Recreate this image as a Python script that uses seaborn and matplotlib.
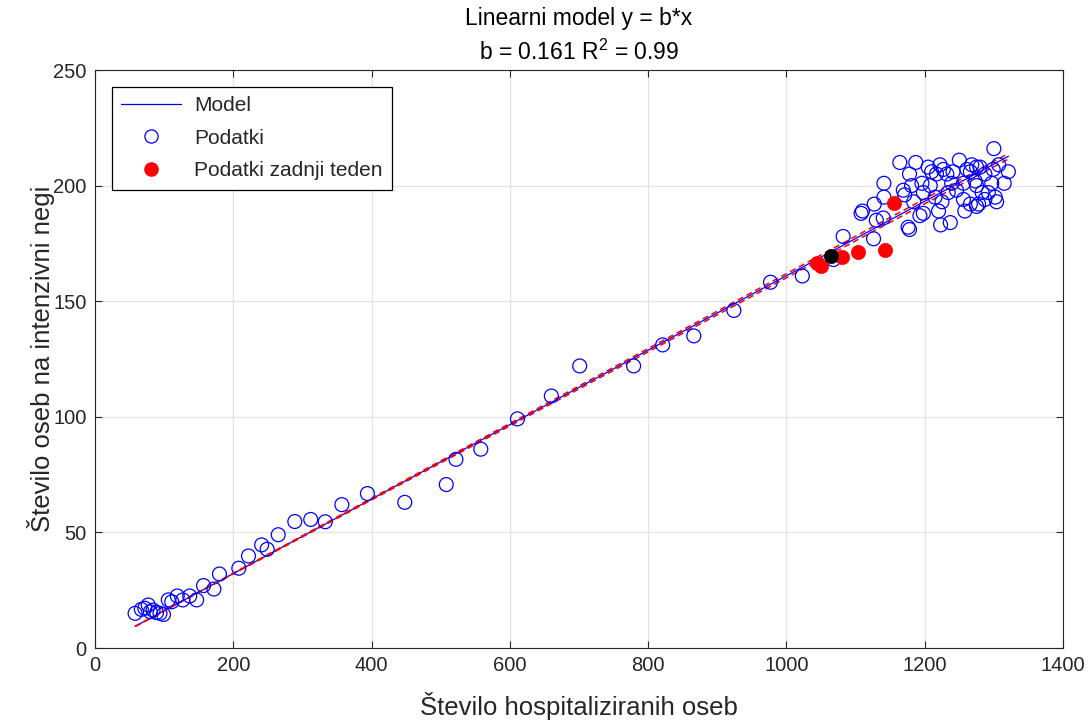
import numpy as np
import pandas as pd
import matplotlib
matplotlib.use("Agg")
import matplotlib.pyplot as plt
from matplotlib.lines import Line2D
import seaborn as sns

# ---------------- data ----------------
hosp_x = [58, 67, 72, 77, 80, 84, 89, 94, 99, 106, 111, 119, 127, 137, 147, 157, 172, 180,
          208, 222, 241, 249, 265, 289, 312, 333, 357, 394, 448, 508, 522, 558, 611, 660,
          701, 779, 821, 866, 924, 977, 1023, 1068, 1082,
          1108, 1110, 1126, 1127, 1130, 1140, 1141, 1141, 1164, 1169, 1171, 1176, 1178, 1178,
          1181, 1184, 1187, 1193, 1196, 1198, 1198, 1205, 1208, 1210, 1215, 1217, 1220, 1222,
          1223, 1225, 1227, 1232, 1234, 1237, 1239, 1241, 1246, 1250, 1256, 1256, 1258, 1261,
          1266, 1266, 1268, 1273, 1275, 1275, 1275, 1278, 1280, 1283, 1287, 1287, 1292, 1297,
          1299, 1300, 1302, 1304, 1307, 1315, 1321]
icu_y = [15.0, 16.7, 17.2, 18.6, 15.7, 16.4, 15.3, 15.0, 14.5, 20.8, 20.0, 22.5, 20.8, 22.5,
         20.8, 27.0, 25.5, 32.0, 34.5, 39.8, 44.6, 42.7, 49.0, 54.7, 55.6, 54.6, 62.0, 66.8,
         63.0, 70.7, 81.6, 86.0, 99.1, 109.0, 122.0, 122.0, 131.1, 135.0, 146.0, 158.2, 160.9,
         168.0, 178.0,
         188, 189, 177, 192, 185, 186, 195, 201, 210, 198, 196, 182, 181, 205,
         200, 193, 210, 187, 201, 188, 197, 208, 200, 206, 195, 205, 189, 209,
         183, 193, 207, 205, 197, 184, 201, 206, 198, 211, 194, 201, 189, 207,
         206, 192, 209, 202, 208, 191, 200, 192, 208, 197, 205, 194, 197, 201,
         207, 216, 195, 193, 209, 201, 206]

last_week_x = [1044, 1050, 1081, 1104, 1143, 1156]
last_week_y = [166.4, 165.2, 169.3, 171.1, 172.1, 192.3]
latest_x = [1064]
latest_y = [169.4]

b = 0.161
b_low = 0.1601
b_high = 0.1619
r2 = 0.99
model_x = [min(hosp_x), max(hosp_x)]

x_ticks = [0, 200, 400, 600, 800, 1000, 1200, 1400]
y_ticks = [0, 50, 100, 150, 200, 250]

# ---------------- styling ----------------
sns.set_theme(style="white")
plt.rcParams["font.family"] = ["Liberation Sans", "DejaVu Sans"]
plt.rcParams["mathtext.fontset"] = "custom"
plt.rcParams["mathtext.rm"] = "Liberation Sans"
dark = "#262626"

fig = plt.figure(figsize=(10.92, 7.25), dpi=100)
ax = fig.add_axes([95 / 1092, 1 - 648 / 725, (1063 - 95) / 1092, (648 - 70) / 725])

model_df = pd.DataFrame({"x": model_x, "y": [b * v for v in model_x],
                         "lo": [b_low * v for v in model_x], "hi": [b_high * v for v in model_x]})

sns.lineplot(data=model_df, x="x", y="y", ax=ax, color="blue", linewidth=0.9, zorder=3)
sns.lineplot(data=model_df, x="x", y="lo", ax=ax, color="red", linewidth=1.1,
             linestyle=(0, (4, 2.5)), zorder=4)
sns.lineplot(data=model_df, x="x", y="hi", ax=ax, color="red", linewidth=1.1,
             linestyle=(0, (4, 2.5)), zorder=4)

pts = pd.DataFrame({"x": hosp_x, "y": icu_y})
sns.scatterplot(data=pts, x="x", y="y", ax=ax, marker="o", s=100, facecolor="none",
                edgecolor="blue", linewidth=0.9, zorder=5)
lw = pd.DataFrame({"x": last_week_x, "y": last_week_y})
sns.scatterplot(data=lw, x="x", y="y", ax=ax, marker="o", s=105, color="red",
                edgecolor="red", linewidth=0.5, zorder=6)
lt = pd.DataFrame({"x": latest_x, "y": latest_y})
sns.scatterplot(data=lt, x="x", y="y", ax=ax, marker="o", s=105, color="black",
                edgecolor="black", linewidth=0.5, zorder=7)

ax.set_xlim(0, 1400)
ax.set_ylim(0, 250)
ax.set_xticks(x_ticks)
ax.set_yticks(y_ticks)
ax.grid(True, color="#e3e3e3", linewidth=0.9)
ax.set_axisbelow(True)
for sp in ax.spines.values():
    sp.set_visible(True)
    sp.set_color(dark)
    sp.set_linewidth(0.8)
ax.tick_params(direction="in", length=5, width=0.8, colors=dark, labelsize=14.5,
               top=True, right=True, left=True, bottom=True, pad=6)

ax.set_xlabel("Število hospitaliziranih oseb", fontsize=18.5, color=dark, labelpad=12)
ax.set_ylabel("Število oseb na intenzivni negi", fontsize=18.5, color=dark, labelpad=-1)
ax.set_title("Linearni model y = b*x\n" + f"b = {b:.3f} R$^2$ = {r2:.2f}",
             fontsize=16.5, color="black", pad=7, linespacing=1.5)

handles = [
    Line2D([0], [0], color="blue", linewidth=0.9),
    Line2D([0], [0], marker="o", linestyle="none", markersize=9.5, markerfacecolor="none",
           markeredgecolor="blue", markeredgewidth=0.9),
    Line2D([0], [0], marker="o", linestyle="none", markersize=9.5, markerfacecolor="red",
           markeredgecolor="red"),
]
leg = ax.legend(handles, ["Model", "Podatki", "Podatki zadnji teden"], loc="upper left",
                fontsize=15, frameon=True, fancybox=False, edgecolor="black",
                framealpha=1, handlelength=2.9, handletextpad=0.6, borderpad=0.45,
                labelspacing=0.65, borderaxespad=0.8)
leg.get_frame().set_linewidth(0.9)

fig.savefig("out.png", dpi=100)
